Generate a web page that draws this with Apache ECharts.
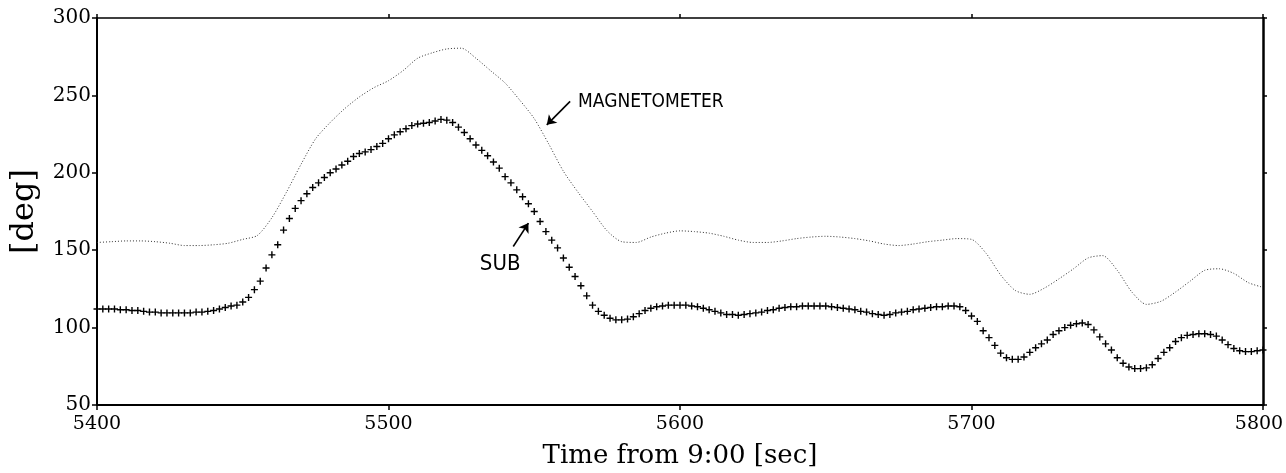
<!DOCTYPE html>
<html>
<head>
<meta charset="utf-8">
<script src="https://cdn.jsdelivr.net/npm/echarts@6.0.0/dist/echarts.min.js"></script>
<style>
  html, body { margin: 0; padding: 0; background: #fff; }
  #chart { width: 1286px; height: 473px; }
</style>
</head>
<body>
<div id="chart"></div>
<script>
// sample times: SUB every 2 s, magnetometer every 5 s, both from 5400
var subStart = 5400, subStep = 2;
var magStart = 5400, magStep = 5;

var xTicks = [5400, 5500, 5600, 5700, 5800];
var yTicks = [50, 100, 150, 200, 250, 300];

// SUB heading [deg]
var subValues = [
  112, 112, 112, 112, 111.5, 111.5, 111, 111, 110.5, 110,
  110, 109.5, 109.5, 109.5, 109.5, 109.5, 109.5, 110, 110, 110.5,
  111, 112, 113, 114, 114.5, 116.5, 119.5, 124.5, 130, 138.5,
  147, 153.5, 163, 170.5, 177, 182, 186.5, 190.5, 193.5, 197,
  200, 202.5, 205, 207.5, 210.5, 212.5, 213.5, 215, 217, 219,
  222, 224.5, 226.5, 228.5, 230.5, 231.5, 232, 232.5, 233.5, 234.5,
  234, 232.5, 229.5, 226, 222, 218, 214.5, 211, 207, 203,
  197.5, 193.5, 189, 184.5, 180, 175, 168.5, 162, 156.5, 151.5,
  145, 139, 133, 127, 120.5, 114.5, 110.5, 108, 106, 105,
  105, 105.5, 107, 109, 111, 112.5, 113.5, 114, 114.5, 114.5,
  114.5, 114.5, 114, 113.5, 112.5, 111.5, 110.5, 109.5, 108.5, 108.5,
  108, 108.5, 109, 109.5, 110, 111, 111.5, 112.5, 113, 113.5,
  113.5, 114, 114, 114, 114, 114, 113.5, 113, 112.5, 112,
  111.5, 110.5, 110, 109, 108.5, 108, 108.5, 109.5, 110, 110.5,
  111.5, 112, 112.5, 113, 113.5, 113.5, 114, 114, 113.5, 111,
  107.5, 104, 98, 93.5, 88.5, 83.5, 80.5, 79.5, 79.5, 81,
  84, 87, 89.5, 92, 95.5, 98, 100, 101.5, 102.5, 103,
  102, 98.5, 94, 89.5, 85.5, 80.5, 77, 74.5, 73.5, 73.5,
  74, 76, 80, 84, 87, 91, 93.5, 95, 95.5, 96,
  96, 95.5, 94.5, 92, 89, 86.5, 85, 84.5, 84.5, 85,
  85.5
];

// MAGNETOMETER heading [deg]
var magValues = [
  155, 155.5, 156, 156, 155.5, 154.5, 153, 153, 153.5, 154.5,
  157, 159.5, 171, 187.5, 205.5, 222, 232.5, 241.5, 249, 255,
  259.5, 266, 274, 277.5, 280, 280.5, 274, 266, 258, 247,
  235, 218.5, 201, 187.5, 175, 162.5, 155.5, 155, 158.5, 161,
  162.5, 162, 161, 159, 156.5, 155, 155, 156, 157.5, 158.5,
  159, 158.5, 157.5, 156, 154, 153, 154, 155.5, 156.5, 157.5,
  157, 148, 134, 124, 121.5, 125.5, 131.5, 138, 145, 146.5,
  137, 123, 115, 117, 123, 130, 137, 138, 135, 129,
  126
];

var subData = subValues.map(function (v, i) { return [subStart + i * subStep, v]; });
var magData = magValues.map(function (v, i) { return [magStart + i * magStep, v]; });

var serif = "'DejaVu Serif', 'Liberation Serif', serif";
var hand = "'DejaVu Sans Condensed', 'DejaVu Sans', sans-serif";
var plusPath = 'path://M4,0H6V4H10V6H6V10H4V6H0V4H4Z';
var xMax = xTicks[xTicks.length - 1];

var option = {
  animation: false,
  backgroundColor: '#fff',
  grid: { left: 97, right: 23, top: 18, bottom: 68, outerBoundsMode: 'none', containLabel: false },
  xAxis: [
    {
      type: 'value',
      min: xTicks[0],
      max: xMax,
      interval: 100,
      name: 'Time from 9:00 [sec]',
      nameLocation: 'middle',
      nameGap: 38,
      nameTextStyle: { fontFamily: serif, fontSize: 26, color: '#000' },
      axisLine: { show: true, onZero: false, lineStyle: { color: '#000', width: 2 } },
      axisTick: { show: true, inside: false, length: 5, lineStyle: { color: '#000', width: 1.5 } },
      axisLabel: {
        fontFamily: serif, fontSize: 19, color: '#000', margin: 10,
        // last label sits at the right edge, nudge it in a little
        formatter: function (v) { return v === xMax ? '{last|' + v + '}' : String(v); },
        rich: {
          last: { fontFamily: serif, fontSize: 19, color: '#000', padding: [0, 8, 0, 0] }
        }
      },
      splitLine: { show: false }
    },
    {
      type: 'value',
      position: 'top',
      min: xTicks[0],
      max: xMax,
      interval: 100,
      axisLine: { show: true, onZero: false, lineStyle: { color: '#000', width: 1.5 } },
      axisTick: { show: true, length: 4, lineStyle: { color: '#000', width: 1.5 } },
      axisLabel: { show: false },
      splitLine: { show: false }
    }
  ],
  yAxis: [
    {
      type: 'value',
      min: yTicks[0],
      max: yTicks[yTicks.length - 1],
      interval: 50,
      name: '[deg]',
      nameLocation: 'middle',
      nameGap: 56,
      nameRotate: 90,
      nameTextStyle: { fontFamily: serif, fontSize: 32, color: '#000' },
      axisLine: { show: true, onZero: false, lineStyle: { color: '#000', width: 2 } },
      axisTick: { show: true, length: 5, lineStyle: { color: '#000', width: 1.5 } },
      axisLabel: { fontFamily: serif, fontSize: 20, color: '#000', margin: 6 },
      splitLine: { show: false }
    },
    {
      type: 'value',
      position: 'right',
      min: yTicks[0],
      max: yTicks[yTicks.length - 1],
      interval: 50,
      axisLine: { show: true, onZero: false, lineStyle: { color: '#000', width: 2.5 } },
      axisTick: { show: true, length: 4, lineStyle: { color: '#000', width: 1.5 } },
      axisLabel: { show: false },
      splitLine: { show: false }
    }
  ],
  series: [
    {
      name: 'MAGNETOMETER',
      type: 'line',
      data: magData,
      smooth: 0.25,
      showSymbol: false,
      lineStyle: { color: '#333', width: 1, type: [1, 2] },
      markLine: {
        silent: true,
        symbol: ['none', 'arrow'],
        symbolSize: 9,
        label: { show: false },
        lineStyle: { color: '#000', width: 1.6, type: 'solid' },
        data: [
          [{ coord: [5562.3, 246.1] }, { coord: [5554.3, 231] }],
          [{ coord: [5542.8, 152.4] }, { coord: [5548, 167.5] }]
        ]
      },
      markPoint: {
        silent: true,
        symbol: 'circle',
        symbolSize: 1,
        itemStyle: { color: 'transparent' },
        label: {
          show: true,
          position: 'inside',
          fontFamily: hand,
          fontSize: 19,
          color: '#000',
          formatter: function (p) { return p.name; }
        },
        data: [
          { name: 'MAGNETOMETER', coord: [5590, 246] },
          { name: 'SUB', coord: [5538.3, 141], label: { fontSize: 22 } }
        ]
      }
    },
    {
      name: 'SUB',
      type: 'line',
      data: subData,
      showSymbol: true,
      showAllSymbol: true,
      symbol: plusPath,
      symbolSize: 7,
      itemStyle: { color: '#000' },
      lineStyle: { width: 0, opacity: 0 }
    }
  ]
};

var myChart = echarts.init(document.getElementById('chart'));
myChart.setOption(option);
</script>
</body>
</html>
